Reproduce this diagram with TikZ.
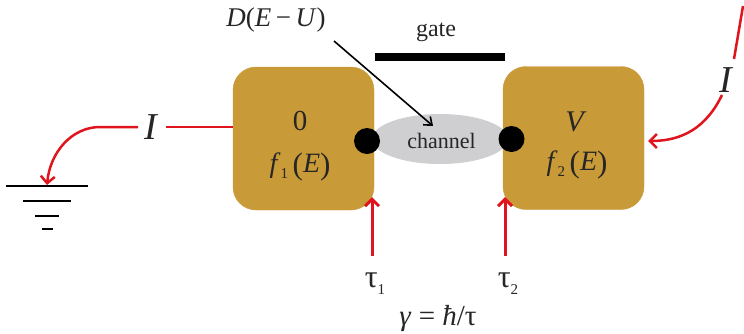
\documentclass[tikz,border=0pt]{standalone}
\usepackage{fontspec}
\setmainfont{Liberation Serif}
\usetikzlibrary{arrows.meta,shapes.geometric}
\definecolor{boxgold}{HTML}{C99A38}
\definecolor{chgray}{HTML}{CFCFD1}
\definecolor{redline}{HTML}{E0141C}
\newcommand{\fs}[1]{\fontsize{#1}{#1}\selectfont}
\newcommand{\lowsub}[1]{\raisebox{-0.22em}{\fs{15}#1}}
\newcommand{\bigparen}[1]{\raisebox{-0.06em}{\fs{31}#1}}
\tikzset{
  x=1pt,y=-1pt,
  lead/.style={draw=boxgold,fill=boxgold,rounded corners=23pt,minimum width=141pt,minimum height=143pt,inner sep=0pt,outer sep=0pt},
  junction/.style={circle,fill=black,minimum size=26pt,inner sep=0pt},
  chan/.style={ellipse,fill=chgray,minimum width=136pt,minimum height=50pt,inner sep=0pt},
  label/.style={inner sep=0pt,text=black!85},
  curr/.style={draw=redline,line width=2.5pt},
  currarrow/.style={curr,-{Straight Barb[length=7pt,width=14pt,line width=2.5pt]}},
  tauarrow/.style={draw=redline,line width=3pt,-{Straight Barb[length=7pt,width=14pt,line width=3pt]}},
  gnd/.style={draw=black,line width=2.8pt}
}
\begin{document}
\begin{tikzpicture}
\useasboundingbox (0,0) rectangle (744,333);
% channel and leads
\node[chan] (channel) at (440,139) {};
\node[lead] (left) at (303.5,138.5) {};
\node[lead] (right) at (573.5,138) {};
\node[junction] (dotl) at (367,141) {};
\node[junction] (dotr) at (511.5,139) {};
\node[label] (chtext) at (441.5,141) {\fs{22}channel};
% gate
\coordinate (gatel) at (375,57);
\coordinate (gater) at (505,57);
\draw[draw=black,line width=8pt] (gatel) -- (gater);
\node[label] (gatetext) at (436,32) {\fs{24}gate};
% labels in leads
\node[label] (zero) at (300,121) {\fs{29}0};
\node[label] (f1) at (300,167) {\fs{28}\textit{f}\lowsub{1}\,\bigparen{(}\textit{E}\bigparen{)}};
\node[label] (vv) at (576,122) {\fs{30}\textit{V}};
\node[label] (f2) at (577,165) {\fs{28}\textit{f}\lowsub{2}\,\bigparen{(}\textit{E}\bigparen{)}};
% D label and arrow
\node[label] (dlabel) at (276,20) {\fs{27}\textit{D}(\textit{E}\,−\,\textit{U})};
\coordinate (dstart) at (334,41);
\coordinate (dend) at (433,126);
\draw[draw=black,line width=1.6pt,-{Straight Barb[length=7pt,width=11pt,line width=1.6pt]}] (dstart) -- (dend);
% left current
\node[label] (ileft) at (152,127) {\fs{38}\textit{I}};
\coordinate (ilin) at (166,127);
\coordinate (ilstart) at (138,127);
\coordinate (gndtop) at (47,185);
\draw[curr] (left.west |- ilin) -- (ilin);
\draw[currarrow] (ilstart) -- (100,127) .. controls (72,127) and (50,152) .. (gndtop);
% ground
\coordinate (g1a) at (6,186); \coordinate (g1b) at (88,186);
\coordinate (g2a) at (23,201); \coordinate (g2b) at (71,201);
\coordinate (g3a) at (35,216); \coordinate (g3b) at (59,216);
\coordinate (g4a) at (42,229); \coordinate (g4b) at (53,229);
\draw[gnd] (g1a) -- (g1b) (g2a) -- (g2b) (g3a) -- (g3b) (g4a) -- (g4b);
% right current
\node[label] (iright) at (727,80) {\fs{38}\textit{I}};
\coordinate (irtop) at (743,6);
\coordinate (irup) at (734,59);
\coordinate (irdown) at (722,95);
\coordinate (irend) at (648,141);
\draw[curr] (irtop) -- (irup);
\draw[currarrow] (irdown) .. controls (706,128) and (682,141) .. (irend);
% tau arrows
\coordinate (t1a) at (372,256); \coordinate (t1b) at (372,197);
\coordinate (t2a) at (505,256); \coordinate (t2b) at (505,197);
\draw[tauarrow] (t1a) -- (t1b);
\draw[tauarrow] (t2a) -- (t2b);
\node[label] (tau1) at (375,284) {\fs{32}τ\lowsub{1}};
\node[label] (tau2) at (508,284) {\fs{32}τ\lowsub{2}};
\node[label] (gamma) at (438,319) {\fs{29}\textit{γ} = \textit{ħ}/τ};
\end{tikzpicture}
\end{document}
